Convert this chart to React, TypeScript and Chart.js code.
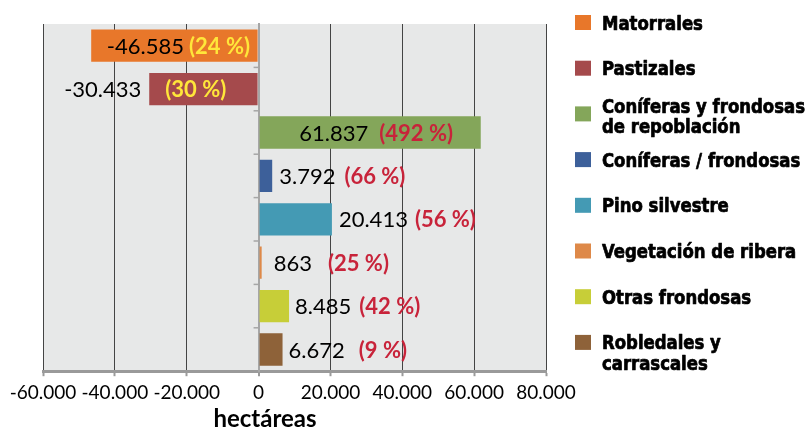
import React, { useEffect, useRef } from 'react';
import { Chart, registerables } from 'chart.js';

Chart.register(...registerables);

// ---------- DATA ----------
const categories = [
  'Matorrales',
  'Pastizales',
  'Coníferas y frondosas de repoblación',
  'Coníferas / frondosas',
  'Pino silvestre',
  'Vegetación de ribera',
  'Otras frondosas',
  'Robledales y carrascales',
];
const legendLines = [
  ['Matorrales'],
  ['Pastizales'],
  ['Coníferas y frondosas', 'de repoblación'],
  ['Coníferas / frondosas'],
  ['Pino silvestre'],
  ['Vegetación de ribera'],
  ['Otras frondosas'],
  ['Robledales y', 'carrascales'],
];
const hectareas = [-46585, -30433, 61837, 3792, 20413, 863, 8485, 6672];
const percentages = [24, 30, 492, 66, 56, 25, 42, 9];
const xTickValues = [-60000, -40000, -20000, 0, 20000, 40000, 60000, 80000];
const xTickLabels = ['-60.000', '-40.000', '-20.000', '0', '20.000', '40.000', '60.000', '80.000'];
const axisTitle = 'hectáreas';

// ---------- STYLES ----------
const barColors = ['#E8772A', '#A54A4C', '#84A65A', '#3D609A', '#449AB4', '#DE8949', '#C7CE38', '#8E6239'];
const pctColors = ['#FFE63A', '#FFE63A', '#C8233A', '#C8233A', '#C8233A', '#C8233A', '#C8233A', '#C8233A'];
// label layout: anchor at bar midpoint or bar end; alignment; dx shift; gap between value and percentage
const labelLayout = [
  { anchor: 'mid', align: 'center', dx: 4, gap: 5 },
  { anchor: 'end', align: 'center', dx: -4, gap: 24 },
  { anchor: 'mid', align: 'center', dx: 6, gap: 11 },
  { anchor: 'end', align: 'left', dx: 7, gap: 9 },
  { anchor: 'end', align: 'left', dx: 7, gap: 7 },
  { anchor: 'end', align: 'left', dx: 12, gap: 16 },
  { anchor: 'end', align: 'left', dx: 6, gap: 8 },
  { anchor: 'end', align: 'left', dx: 6, gap: 14 },
];
const LABEL_FONT = '"Lato", "Open Sans", sans-serif';
const LEGEND_FONT = 'bold 20px "Liberation Sans Narrow", "DejaVu Sans Condensed", sans-serif';

function fmt(n: number): string {
  const s = Math.abs(Math.round(n)).toString().replace(/\B(?=(\d{3})+(?!\d))/g, '.');
  return (n < 0 ? '-' : '') + s;
}

const bgPlugin = {
  id: 'plotBg',
  beforeDraw(chart: any) {
    const { ctx, chartArea } = chart;
    ctx.save();
    ctx.fillStyle = '#E7E8E8';
    ctx.fillRect(chartArea.left, chartArea.top, chartArea.right - chartArea.left, chartArea.bottom - chartArea.top);
    ctx.restore();
  },
};

const labelPlugin = {
  id: 'barLabels',
  afterDatasetsDraw(chart: any) {
    const ctx = chart.ctx;
    const meta = chart.getDatasetMeta(0);
    const xs = chart.scales.x;
    const ys = chart.scales.y;
    ctx.save();
    // small category ticks on the zero axis
    const zx = xs.getPixelForValue(0);
    ctx.strokeStyle = '#A6A6A6';
    ctx.lineWidth = 1.5;
    for (let i = 0; i < categories.length - 1; i++) {
      const yb = (ys.getPixelForValue(i) + ys.getPixelForValue(i + 1)) / 2;
      ctx.beginPath();
      ctx.moveTo(zx - 5, yb);
      ctx.lineTo(zx, yb);
      ctx.stroke();
    }
    ctx.textBaseline = 'middle';
    ctx.textAlign = 'left';
    meta.data.forEach((bar: any, i: number) => {
      const { x, y, base } = bar.getProps(['x', 'y', 'base'], true);
      const vText = fmt(hectareas[i]);
      const pText = `(${percentages[i]} %)`;
      ctx.font = `22px ${LABEL_FONT}`;
      const vw = ctx.measureText(vText).width;
      ctx.font = `bold 22px ${LABEL_FONT}`;
      const pw = ctx.measureText(pText).width;
      const L = labelLayout[i];
      const total = vw + L.gap + pw;
      const ax = L.anchor === 'mid' ? (x + base) / 2 : x;
      const sx = L.align === 'center' ? ax - total / 2 + L.dx : ax + L.dx;
      ctx.font = `22px ${LABEL_FONT}`;
      ctx.fillStyle = '#000000';
      ctx.fillText(vText, sx, y + 1);
      ctx.font = `bold 22px ${LABEL_FONT}`;
      ctx.fillStyle = pctColors[i];
      ctx.fillText(pText, sx + vw + L.gap, y + 1);
    });
    ctx.restore();
  },
};

const legendPlugin = {
  id: 'sideLegend',
  afterDraw(chart: any) {
    const ctx = chart.ctx;
    ctx.save();
    ctx.font = LEGEND_FONT;
    const ref = ctx.measureText('Coníferas y frondosas').width;
    const sxScale = 203 / ref;
    const boxX = 575;
    const textX = 602;
    const top0 = 15;
    const step = 45.7;
    const lineH = 20.5;
    const shift = [0, 0, -8, 0, 0, 0, 0, 0];
    ctx.textBaseline = 'alphabetic';
    ctx.textAlign = 'left';
    ctx.lineJoin = 'round';
    legendLines.forEach((lines, i) => {
      const top = top0 + step * i;
      ctx.fillStyle = barColors[i];
      ctx.fillRect(boxX, top, 16, 15);
      ctx.fillStyle = '#000000';
      ctx.strokeStyle = '#000000';
      ctx.lineWidth = 0.7;
      lines.forEach((t, j) => {
        ctx.save();
        ctx.translate(textX, top + 14.5 + shift[i] + j * lineH);
        ctx.scale(sxScale, 1);
        ctx.fillText(t, 0, 0);
        ctx.strokeText(t, 0, 0);
        ctx.restore();
      });
    });
    // axis title
    ctx.font = `bold 24px ${LABEL_FONT}`;
    ctx.textAlign = 'center';
    ctx.textBaseline = 'middle';
    ctx.fillStyle = '#000000';
    ctx.fillText(axisTitle, 265, 419);
    ctx.restore();
  },
};

export default function App() {
  const ref = useRef<HTMLCanvasElement | null>(null);
  useEffect(() => {
    if (!ref.current) return;
    const chart = new Chart(ref.current, {
      type: 'bar',
      data: {
        labels: categories,
        datasets: [
          {
            data: hectareas,
            backgroundColor: barColors,
            borderWidth: 0,
            barPercentage: 0.745,
            categoryPercentage: 1,
          },
        ],
      },
      options: {
        indexAxis: 'y',
        responsive: false,
        animation: false,
        layout: { padding: { left: 43, right: 263, top: 24, bottom: 21 } },
        plugins: { legend: { display: false }, tooltip: { enabled: false } },
        scales: {
          x: {
            type: 'linear',
            min: xTickValues[0],
            max: xTickValues[xTickValues.length - 1],
            afterBuildTicks: (scale: any) => {
              scale.ticks = xTickValues.map((v) => ({ value: v }));
            },
            ticks: {
              autoSkip: false,
              maxRotation: 0,
              padding: 5,
              color: '#000000',
              font: { family: LABEL_FONT, size: 19 },
              callback: (_v: any, i: number) => xTickLabels[i],
            },
            grid: {
              color: (c: any) => (c.tick && c.tick.value === 0 ? '#A6A6A6' : '#444444'),
              lineWidth: (c: any) => (c.tick && c.tick.value === 0 ? 2 : 1),
              tickColor: '#9A9A9A',
              tickLength: 5,
              tickWidth: 2,
            },
            border: { color: '#9A9A9A', width: 3 },
          },
          y: {
            type: 'category',
            position: { x: 0 } as any,
            ticks: { display: false },
            grid: {
              drawOnChartArea: false,
              drawTicks: false,
              offset: true,
            },
            border: { color: '#A6A6A6', width: 2 },
          },
        },
      } as any,
      plugins: [bgPlugin, labelPlugin, legendPlugin],
    });
    return () => chart.destroy();
  }, []);
  return (
    <div style={{ position: 'absolute', left: 0, top: 0, width: 809, height: 430, background: '#ffffff' }}>
      <canvas ref={ref} width={809} height={430} style={{ width: 809, height: 430, display: 'block' }} />
    </div>
  );
}
